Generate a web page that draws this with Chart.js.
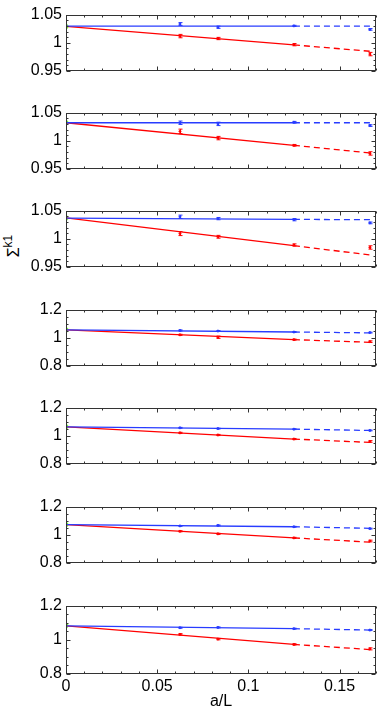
<!DOCTYPE html>
<html>
<head>
<meta charset="utf-8">
<script src="https://cdn.jsdelivr.net/npm/chart.js@4.4.1/dist/chart.umd.min.js"></script>
<style>
body { margin: 0; background: #fff; width: 382px; height: 716px; position: relative; overflow: hidden; font-family: "Liberation Sans", Arial, sans-serif; }
canvas { position: absolute; left: 0; }
#ylab { position: absolute; left: 12px; top: 246px; transform: translate(-50%, -50%) rotate(-90deg); font-size: 16px; white-space: nowrap; }
#ylab sup { font-size: 12px; }
</style>
</head>
<body>
<div id="ylab">Σ<sup>k1</sup></div>
<script>
// lattice spacings a/L where data exists
const aOverL = [1 / 16, 1 / 12, 1 / 8, 1 / 6]
// fit lines: value at a/L = 0, 1/8 and 1/6 (solid up to 1/8, dashed beyond)
const fitX = [0, 1 / 8, 1 / 6]

const blueFit = [
    [1.0295, 1.0295, 1.0295],
    [1.032, 1.032, 1.032],
    [1.0367, 1.0344, 1.0339],
    [1.056, 1.041, 1.035],
    [1.064, 1.047, 1.038],
    [1.072, 1.057, 1.046],
    [1.082, 1.065, 1.057]
]
const redFit = [
    [1.029, 0.9962, 0.985],
    [1.032, 0.9919, 0.9785],
    [1.037, 0.9879, 0.9713],
    [1.056, 0.987, 0.968],
    [1.064, 0.977, 0.953],
    [1.072, 0.978, 0.948],
    [1.082, 0.973, 0.943]
]
const continuum = [1.029, 1.032, 1.037, 1.056, 1.064, 1.072, 1.082]

const bluePts = [
    [1.0333, 1.0276, 1.030, 1.0238],
    [1.032, 1.030, 1.0329, 1.027],
    [1.039, 1.0358, 1.0339, 1.0282],
    [1.052, 1.048, 1.041, 1.037],
    [1.0566, 1.051, 1.047, 1.038],
    [1.063, 1.0667, 1.057, 1.044],
    [1.0705, 1.0724, 1.065, 1.057]
]
const blueErr = [
    [0.0025, 0.002, 0.001, 0.0015],
    [0.003, 0.003, 0.0015, 0.0015],
    [0.003, 0.002, 0.002, 0.0015],
    [0.004, 0.003, 0.003, 0.003],
    [0.003, 0.003, 0.003, 0.003],
    [0.003, 0.003, 0.003, 0.003],
    [0.003, 0.003, 0.003, 0.003]
]
const redPts = [
    [1.0119, 1.0076, 0.9967, 0.980],
    [1.0167, 1.0048, 0.992, 0.9776],
    [1.0092, 1.0036, 0.989, 0.9846],
    [1.021, 1.004, 0.987, 0.9725],
    [1.0208, 1.0057, 0.977, 0.960],
    [1.025, 1.0066, 0.978, 0.956],
    [1.032, 1.004, 0.973, 0.947]
]
const redErr = [
    [0.003, 0.002, 0.002, 0.003],
    [0.004, 0.003, 0.0015, 0.003],
    [0.0035, 0.0025, 0.002, 0.003],
    [0.004, 0.008, 0.004, 0.006],
    [0.004, 0.004, 0.004, 0.006],
    [0.004, 0.004, 0.004, 0.006],
    [0.004, 0.004, 0.004, 0.006]
]

const xTicks = [0, 0.05, 0.1, 0.15]
const xTickLabels = ["0", "0.05", "0.1", "0.15"]
const yTicksSmall = [0.95, 1, 1.05]
const yTickLabelsSmall = ["0.95", "1", "1.05"]
const yTicksLarge = [0.8, 1, 1.2]
const yTickLabelsLarge = ["0.8", "1", "1.2"]

const panelTops = [13, 111, 209, 308, 406, 505, 604]
const PLOT_H = 70
const PAD = 12
const BLUE = "rgb(40,60,255)"
const RED = "rgb(255,0,0)"
const GREEN = "rgb(110,255,40)"
const FONT = { family: "Liberation Sans", size: 16 }

const pts = (xs, ys) => xs.map((x, k) => ({ x: x, y: ys[k] }))

// frame with inward major/minor ticks on all four sides
const framePlugin = {
    id: "frame",
    afterDraw(chart, args, opts) {
        const { ctx, chartArea: a, scales } = chart
        const L = Math.round(a.left) + 0.5, R = Math.round(a.right) - 0.5
        const T = Math.round(a.top) + 0.5, B = Math.round(a.bottom) - 0.5
        ctx.save()
        ctx.strokeStyle = "#333"
        ctx.lineWidth = 1
        ctx.beginPath()
        const step = (min, max, d) => {
            const out = []
            for (let v = min; v <= max + 1e-9; v += d) out.push(v)
            return out
        }
        step(0, 0.17, 0.01).forEach(v => {
            const major = Math.abs(v / 0.05 - Math.round(v / 0.05)) < 1e-6
            const x = Math.round(scales.x.getPixelForValue(v)) + 0.5
            const len = major ? 4 : 2
            ctx.moveTo(x, B); ctx.lineTo(x, B - len)
            ctx.moveTo(x, T); ctx.lineTo(x, T + len)
        })
        step(scales.y.min, scales.y.max, opts.minor).forEach(v => {
            const major = Math.abs(v / opts.major - Math.round(v / opts.major)) < 1e-6
            const y = Math.round(scales.y.getPixelForValue(v)) + 0.5
            const len = major ? 4 : 2
            ctx.moveTo(L, y); ctx.lineTo(L + len, y)
            ctx.moveTo(R, y); ctx.lineTo(R - len, y)
        })
        ctx.stroke()
        ctx.strokeRect(L, T, R - L, B - T)
        ctx.restore()
    }
}

// vertical error bars with small caps
const errorBarPlugin = {
    id: "errorBars",
    afterDatasetsDraw(chart) {
        const { ctx, scales } = chart
        ctx.save()
        ctx.lineWidth = 1
        chart.data.datasets.forEach(ds => {
            if (!ds.err) return
            ctx.strokeStyle = ds.borderColor
            ctx.beginPath()
            ds.data.forEach((p, k) => {
                const x = Math.round(scales.x.getPixelForValue(p.x)) + 0.5
                const y1 = scales.y.getPixelForValue(p.y - ds.err[k])
                const y2 = scales.y.getPixelForValue(p.y + ds.err[k])
                ctx.moveTo(x, y1); ctx.lineTo(x, y2)
                ctx.moveTo(x - 2, y1); ctx.lineTo(x + 2, y1)
                ctx.moveTo(x - 2, y2); ctx.lineTo(x + 2, y2)
            })
            ctx.stroke()
        })
        ctx.restore()
    }
}

panelTops.forEach((top, i) => {
    const last = i === panelTops.length - 1
    const wide = i >= 3
    const canvasTop = top - PAD
    const h = last ? 716 - canvasTop : PLOT_H + 2 * PAD
    const cv = document.createElement("canvas")
    cv.width = 382
    cv.height = h
    cv.style.top = canvasTop + "px"
    document.body.appendChild(cv)

    const line = (color, x0, x1, y, dash) => ({
        data: pts(fitX.slice(x0, x1 + 1), y.slice(x0, x1 + 1)),
        showLine: true, borderColor: color, borderWidth: 1.3,
        borderDash: dash ? [6, 4] : [], pointRadius: 0
    })

    const datasets = [
        line(BLUE, 0, 1, blueFit[i], false),
        line(BLUE, 1, 2, blueFit[i], true),
        line(RED, 0, 1, redFit[i], false),
        line(RED, 1, 2, redFit[i], true),
        {
            data: pts(aOverL, bluePts[i]), err: blueErr[i],
            borderColor: BLUE, backgroundColor: BLUE, pointRadius: 1, showLine: false
        },
        {
            data: pts(aOverL, redPts[i]), err: redErr[i],
            borderColor: RED, backgroundColor: RED, pointRadius: 1, showLine: false
        },
        {
            data: [{ x: 0, y: continuum[i] }],
            borderColor: GREEN, backgroundColor: GREEN, pointRadius: 2.5, pointStyle: "crossRot", borderWidth: 2
        }
    ]

    const yTicks = wide ? yTicksLarge : yTicksSmall
    const yLabels = wide ? yTickLabelsLarge : yTickLabelsSmall

    new Chart(cv, {
        type: "scatter",
        data: { datasets: datasets },
        options: {
            responsive: false,
            animation: false,
            events: [],
            layout: { padding: { top: PAD, right: 4, bottom: last ? 0 : PAD, left: 0 } },
            plugins: {
                legend: { display: false },
                tooltip: { enabled: false },
                frame: wide ? { major: 0.2, minor: 0.05 } : { major: 0.05, minor: 0.01 }
            },
            scales: {
                x: {
                    type: "linear",
                    min: 0,
                    max: 0.17,
                    display: last,
                    afterBuildTicks: s => { s.ticks = xTicks.map(v => ({ value: v })) },
                    afterFit: s => { s.height = h - PAD - PLOT_H },
                    grid: { display: false, drawTicks: false },
                    border: { display: false },
                    ticks: { color: "#000", font: FONT, padding: 3, maxRotation: 0, callback: (v, k) => xTickLabels[k] },
                    title: { display: true, text: "a/L", color: "#000", font: FONT, padding: { top: 0, bottom: 5 } }
                },
                y: {
                    type: "linear",
                    min: yTicks[0],
                    max: yTicks[yTicks.length - 1],
                    afterBuildTicks: s => { s.ticks = yTicks.map(v => ({ value: v })) },
                    afterFit: s => { s.width = 66 },
                    grid: { display: false, drawTicks: false },
                    border: { display: false },
                    ticks: { color: "#000", font: FONT, padding: 4, callback: (v, k) => yLabels[k] }
                }
            }
        },
        plugins: [framePlugin, errorBarPlugin]
    })
})
</script>
</body>
</html>
